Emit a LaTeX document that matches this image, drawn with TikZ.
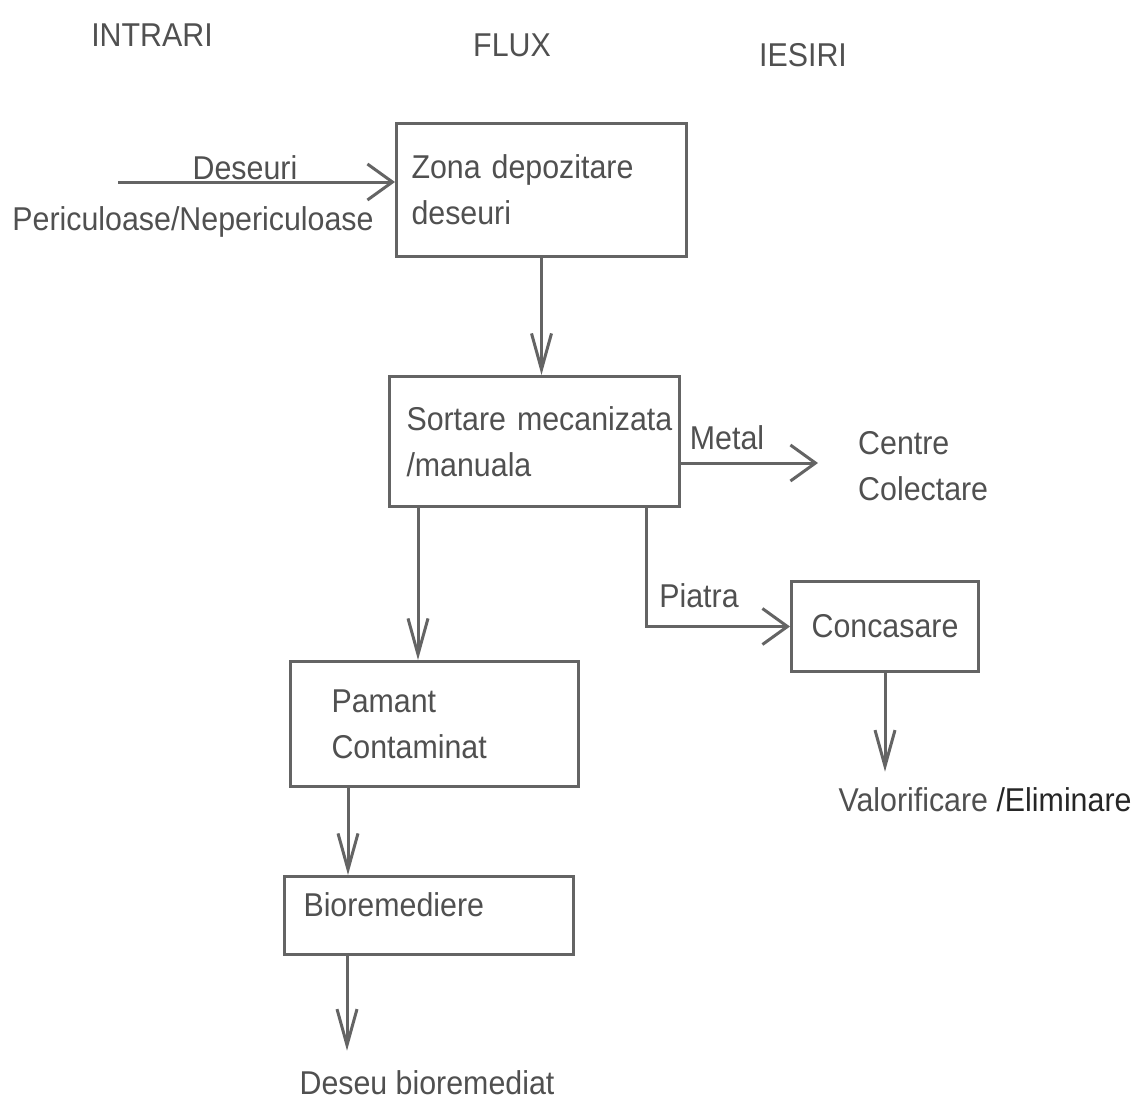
\documentclass[tikz,border=0pt]{standalone}
\usepackage{fontspec}
\setmainfont{Liberation Sans}[FakeStretch=0.92]
\usetikzlibrary{arrows.meta}
\definecolor{ink}{RGB}{80,80,80}
\definecolor{lin}{RGB}{100,100,100}
\begin{document}
\begin{tikzpicture}[x=1pt,y=-1pt,
  font=\fontsize{33}{46}\selectfont, text=ink,
  box/.style={draw=lin, line width=3pt, anchor=north west, inner ysep=0pt, align=left},
  lbl/.style={inner sep=2pt},
  arrv/.style={draw=lin, line width=3pt, -{Straight Barb[length=36pt,width=20pt]}},
  arrh/.style={draw=lin, line width=3pt, -{Straight Barb[length=25pt,width=36pt]}}]
\useasboundingbox (0,0) rectangle (1145,1104);

% column titles
\node[lbl] (tin) at (152,35) {INTRARI};
\node[lbl] (tfl) at (512,45) {FLUX};
\node[lbl] (tie) at (803,55) {IESIRI};

% boxes
\node[box, minimum width=290pt, minimum height=133pt, inner xsep=15pt, text width=260pt] (z) at (395,122)
  {\mbox{Zona depozitare}\\\mbox{deseuri}};
\node[box, minimum width=290pt, minimum height=130pt, inner xsep=17pt, text width=256pt] (s) at (388,375)
  {\mbox{Sortare mecanizata}\\\mbox{/manuala}};
\node[box, minimum width=187pt, minimum height=90pt, inner xsep=5pt, text width=177pt, align=center] (c) at (790,580)
  {Concasare};
\node[box, minimum width=288pt, minimum height=125pt, inner xsep=41pt, text width=206pt] (p) at (289,660)
  {\mbox{Pamant}\\\mbox{Contaminat}};
\node[box, minimum width=289pt, minimum height=78pt, inner xsep=19pt, text width=251pt] (b) at (283,875)
  {\raisebox{11pt}[\height][\depth]{Bioremediere}};

% free labels
\node[lbl] (dtop) at (245,168) {Deseuri};
\node[lbl] (dbot) at (193,222) {Periculoase/Nepericuloase};
\node[lbl] (met) at (727,438) {Metal};
\node[lbl, anchor=west, align=left] (cc) at (856,466) {Centre\\Colectare};
\node[lbl] (pia) at (699,596) {Piatra};
\node[lbl] (v) at (985,800) {Valorificare {\color{black!85}/Eliminare}};
\node[lbl] (d) at (427,1083) {Deseu bioremediat};

% connectors
\coordinate (in) at (118,182);
\draw[arrh] (in) -- (z.west |- in);

\draw[arrv] (z.south) -- (z.south |- s.north);

\coordinate (mend) at (818,463);
\draw[arrh] (s.east |- mend) -- (mend);

\coordinate (s2) at ([xshift=258pt]s.south west);
\draw[arrh] (s2) |- (c.west);

\coordinate (c1) at (c.south);
\coordinate (v1) at ([yshift=14pt]v.north);
\draw[arrv] (c1) -- (c1 |- v1);

\coordinate (s1) at ([xshift=30pt]s.south west);
\draw[arrv] (s1) -- (s1 |- p.north);

\coordinate (p1) at ([xshift=59pt]p.south west);
\draw[arrv] (p1) -- (p1 |- b.north);

\coordinate (b1) at ([xshift=64pt]b.south west);
\coordinate (d1) at ([yshift=18pt]d.north);
\draw[arrv] (b1) -- (b1 |- d1);
\end{tikzpicture}
\end{document}
